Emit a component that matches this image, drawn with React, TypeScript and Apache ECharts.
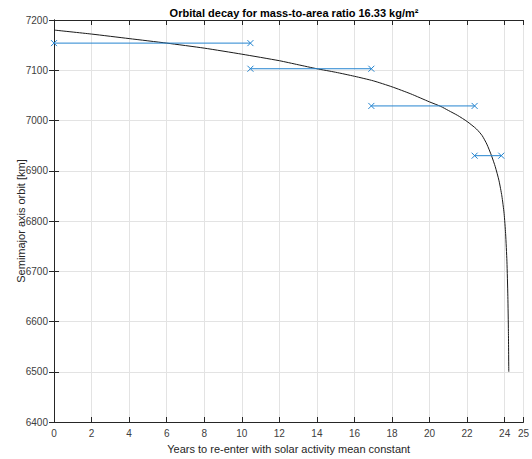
import React, { useEffect, useRef } from "react";
import * as echarts from "echarts";

const curveYears = [0, 2, 4, 6, 8, 10, 12, 13, 14, 15, 16, 17, 18, 19, 20, 20.6, 21, 21.5, 22, 22.5, 22.8, 23.05, 23.3, 23.5, 23.7, 23.85, 23.97, 24.05, 24.12, 24.17, 24.2, 24.22];
const curveKm = [7180, 7172, 7163, 7154, 7144, 7132, 7119, 7111, 7103, 7096, 7088, 7079, 7067, 7053, 7037, 7028, 7020, 7010, 6998, 6983, 6970, 6953, 6930, 6908, 6880, 6850, 6815, 6775, 6720, 6650, 6580, 6500];

const barKm = [7154, 7103, 7029, 6930];
const barLeft = [0, 10.46, 16.9, 22.4];
const barRight = [10.46, 16.9, 22.4, 23.82];

const xTickInterval = 2;
const yTickInterval = 100;

const FONT = "'Liberation Sans', Arial, sans-serif";
const BLUE = "#2585d0";
const AXIS = "#262626";
const CROSS = "path://M0,0L10,10M10,0L0,10";

export default function App() {
  const ref = useRef<HTMLDivElement>(null);
  useEffect(() => {
    if (!ref.current) return;
    const chart = echarts.init(ref.current, null, { renderer: "svg" });
    const curve = curveYears.map((x, i) => [x, curveKm[i]]);
    const bars = barKm.map((y, i) => ({
      type: "line",
      data: [[barLeft[i], y], [barRight[i], y]],
      symbol: CROSS,
      symbolSize: 6,
      showSymbol: true,
      lineStyle: { color: BLUE, width: 1 },
      itemStyle: { color: "none", borderColor: BLUE, borderWidth: 1 },
      z: 3,
    }));
    const tickStyle = { inside: true, length: 5, lineStyle: { color: AXIS, width: 1 } };
    chart.setOption({
      animation: false,
      backgroundColor: "#fff",
      title: {
        text: "Orbital decay for mass-to-area ratio 16.33 kg/m²",
        left: 289,
        textAlign: "center",
        top: 2,
        textStyle: { fontFamily: FONT, fontSize: 11, fontWeight: "bold", color: "#000" },
      },
      graphic: [
        {
          type: "text",
          x: 21,
          y: 221,
          rotation: Math.PI / 2,
          style: {
            text: "Semimajor axis orbit [km]",
            fontFamily: FONT,
            fontSize: 11,
            fill: AXIS,
            align: "center",
            verticalAlign: "middle",
          },
        },
      ],
      grid: { left: 54, right: 7, top: 20, bottom: 36, containLabel: false },
      xAxis: [
        {
          type: "value",
          min: 0,
          max: 25,
          interval: xTickInterval,
          name: "Years to re-enter with solar activity mean constant",
          nameLocation: "middle",
          nameGap: 21,
          nameTextStyle: { fontFamily: FONT, fontSize: 11, color: AXIS },
          axisLine: { lineStyle: { color: AXIS, width: 1 } },
          axisTick: tickStyle,
          axisLabel: { fontFamily: FONT, fontSize: 10, color: "#404040", margin: 6, showMaxLabel: true },
          splitLine: { show: true, lineStyle: { color: "#e3e3e3", width: 1 } },
        },
        {
          type: "value",
          position: "top",
          min: 0,
          max: 25,
          interval: xTickInterval,
          axisLine: { show: true, lineStyle: { color: AXIS, width: 1 } },
          axisTick: tickStyle,
          axisLabel: { show: false },
          splitLine: { show: false },
        },
      ],
      yAxis: [
        {
          type: "value",
          min: 6400,
          max: 7200,
          interval: yTickInterval,
          axisLine: { show: true, lineStyle: { color: AXIS, width: 1 } },
          axisTick: tickStyle,
          axisLabel: { fontFamily: FONT, fontSize: 10, color: "#404040", margin: 6, formatter: (v: number) => String(v) },
          splitLine: { show: true, lineStyle: { color: "#e3e3e3", width: 1 } },
        },
        {
          type: "value",
          position: "right",
          min: 6400,
          max: 7200,
          interval: yTickInterval,
          axisLine: { show: true, lineStyle: { color: AXIS, width: 1 } },
          axisTick: tickStyle,
          axisLabel: { show: false },
          splitLine: { show: false },
        },
      ],
      series: [
        {
          type: "line",
          data: curve,
          showSymbol: false,
          symbol: "none",
          smooth: 0.2,
          lineStyle: { color: "#1a1a1a", width: 1 },
          z: 2,
        },
        ...bars,
      ],
    });
    return () => chart.dispose();
  }, []);
  return <div ref={ref} style={{ width: 532, height: 459, position: "absolute", left: 0, top: 0 }} />;
}
